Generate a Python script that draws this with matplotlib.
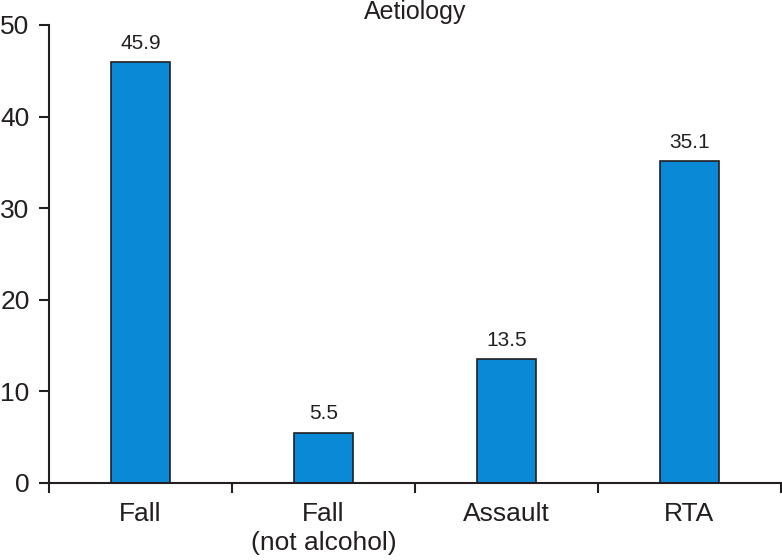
import numpy as np
import matplotlib.pyplot as plt

plt.rcParams['font.family'] = ['Liberation Sans', 'DejaVu Sans']

# data
categories = ['Fall', 'Fall\n(not alcohol)', 'Assault', 'RTA']
values = [45.9, 5.5, 13.5, 35.1]
yticks = [0, 10, 20, 30, 40, 50]

ink = '#231f20'
blue = '#0a8ad6'

fig = plt.figure(figsize=(7.82, 5.6), dpi=100)
ax = fig.add_axes([0.0627, 0.1375, 0.936, 0.818])

x = np.arange(len(categories))
bars = ax.bar(x, values, width=0.32, color=blue, edgecolor=ink, linewidth=1.2, zorder=2)

# value labels above bars
for xi, v in zip(x, values):
    ax.annotate(f'{v}', (xi, v), xytext=(0, 7), textcoords='offset points',
                ha='center', va='bottom', fontsize=15, color=ink)

ax.set_xlim(-0.5, len(categories) - 0.5)
ax.set_ylim(0, 50)
ax.set_yticks(yticks)

# labels at centres, tick marks at category boundaries
ax.set_xticks(x)
ax.set_xticklabels(categories, fontsize=19, color=ink, linespacing=1.25)
ax.tick_params(axis='x', which='major', length=0, pad=14)
ax.set_xticks(np.arange(len(categories) + 1) - 0.5, minor=True)
ax.tick_params(axis='x', which='minor', length=7, width=1.5, color=ink, direction='out')
ax.tick_params(axis='y', length=7, width=1.5, color=ink, labelsize=19,
               labelcolor=ink, pad=7)

for s in ['top', 'right']:
    ax.spines[s].set_visible(False)
for s in ['left', 'bottom']:
    ax.spines[s].set_linewidth(1.5)
    ax.spines[s].set_color(ink)

ax.set_title('Aetiology', fontsize=18, color=ink, pad=4)

fig.savefig('out.png', dpi=100)
